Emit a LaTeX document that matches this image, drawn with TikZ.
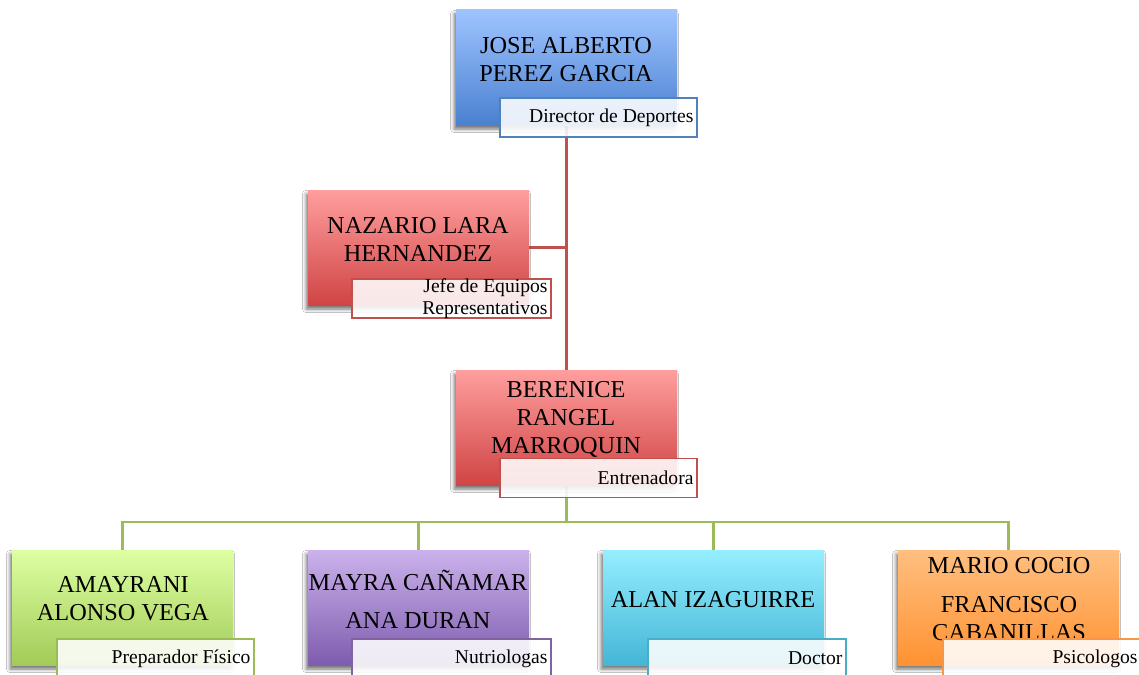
\documentclass[tikz,border=0pt]{standalone}
\usepackage{fontspec}
\setmainfont{Liberation Serif}
\usetikzlibrary{shadows.blur}
\pgfdeclarelayer{bg}
\pgfsetlayers{bg,main}
\definecolor{bluetop}{HTML}{9EC4FF}
\definecolor{bluebot}{HTML}{4A80D0}
\definecolor{blueline}{HTML}{4F81BD}
\definecolor{redtop}{HTML}{FF9E9E}
\definecolor{redbot}{HTML}{D04444}
\definecolor{redline}{HTML}{C0504D}
\definecolor{greentop}{HTML}{DEFFA2}
\definecolor{greenbot}{HTML}{A2CB58}
\definecolor{greenline}{HTML}{9BBB59}
\definecolor{purptop}{HTML}{CBB2EC}
\definecolor{purpbot}{HTML}{7E5CAE}
\definecolor{purpline}{HTML}{8064A2}
\definecolor{cyantop}{HTML}{94EEFF}
\definecolor{cyanbot}{HTML}{44B6D6}
\definecolor{cyanline}{HTML}{4BACC6}
\definecolor{orangetop}{HTML}{FFBF80}
\definecolor{orangebot}{HTML}{FF9232}
\definecolor{orangeline}{HTML}{F79646}
\tikzset{
  person/.style={minimum width=221pt, minimum height=115pt, inner sep=0pt, draw=none,
    blur shadow={shadow xshift=-2pt, shadow yshift=-4pt, shadow blur radius=3.5pt, shadow opacity=55}},
  nametext/.style={font=\fontsize{24.3}{28}\selectfont, align=center, inner sep=0pt, text=black},
  role/.style={minimum height=39pt, inner sep=0pt, fill=white, fill opacity=0.88, line width=1.4pt},
  roletext/.style={font=\fontsize{19.6}{22}\selectfont, align=right, inner sep=0pt, anchor=east, text=black},
  redconn/.style={draw=redline, line width=2.2pt},
  greenconn/.style={draw=greenline, line width=2.4pt},
}
\begin{document}
\begin{tikzpicture}[x=1pt,y=-1pt]
\clip (0,0) rectangle (1139,674);
% main boxes
\node[person, top color=bluetop, bottom color=bluebot] (jose) at (566.5,67.5) {};
\node[person, top color=redtop, bottom color=redbot] (naz) at (418.5,247.5) {};
\node[person, top color=redtop, bottom color=redbot] (ber) at (566.5,427.5) {};
\node[person, top color=greentop, bottom color=greenbot] (ama) at (122.5,607.5) {};
\node[person, top color=purptop, bottom color=purpbot] (may) at (418.5,607.5) {};
\node[person, top color=cyantop, bottom color=cyanbot] (alan) at (713.5,607.5) {};
\node[person, top color=orangetop, bottom color=orangebot] (mario) at (1008.5,607.5) {};
% names
\node[nametext] (josen) at (566,59.5) {JOSE ALBERTO\\PEREZ GARCIA};
\node[nametext] (nazn) at (418,239.5) {NAZARIO LARA\\HERNANDEZ};
\node[nametext] (bern) at (566,419) {BERENICE\\RANGEL\\MARROQUIN};
\node[nametext] (aman) at (123,598.5) {AMAYRANI\\ALONSO VEGA};
\node[nametext] (mayn) at (418,599) {MAYRA CAÑAMAR\\[10pt]ANA DURAN};
\node[nametext] (alann) at (713,600) {ALAN IZAGUIRRE};
\node[nametext] (marion) at (1009,599.5) {MARIO COCIO\\[11pt]FRANCISCO\\CABANILLAS};
% role boxes
\node[role, draw=blueline, minimum width=197pt] (dir) at (598.5,117.5) {};
\node[role, draw=redline, minimum width=199pt] (jefe) at (451.5,298.5) {};
\node[role, draw=redline, minimum width=197pt] (ent) at (598.5,478) {};
\node[role, draw=greenline, minimum width=197pt] (prep) at (155.5,658.5) {};
\node[role, draw=purpline, minimum width=199pt] (nut) at (451.5,658.5) {};
\node[role, draw=cyanline, minimum width=198pt] (doc) at (747,658.5) {};
\node[role, draw=orangeline, minimum width=198pt] (psi) at (1042,658.5) {};
% role texts
\node[roletext] (dirt) at ([xshift=-4pt]dir.east) {Director de Deportes};
\node[roletext] (jefet) at ([xshift=-4pt]jefe.east) {Jefe de Equipos\\Representativos};
\node[roletext] (entt) at ([xshift=-4pt]ent.east) {Entrenadora};
\node[roletext] (prept) at ([xshift=-4pt]prep.east) {Preparador Físico};
\node[roletext] (nutt) at ([xshift=-4pt]nut.east) {Nutriologas};
\node[roletext] (doct) at ([xshift=-4pt]doc.east) {Doctor};
\node[roletext] (psit) at ([xshift=-4pt]psi.east) {Psicologos};
% connectors
\coordinate (bus) at (566.5,522);
\begin{pgfonlayer}{bg}
\fill[white] (0,0) rectangle (1139,674);
\draw[redconn] (jose.south) -- (ber.north);
\draw[redconn] (naz.east) -- (naz.east -| jose.south);
\draw[greenconn] (ber.south) -- (bus);
\draw[greenconn] (bus) -| (ama.north);
\draw[greenconn] (bus) -| (may.north);
\draw[greenconn] (bus) -| (alan.north);
\draw[greenconn] (bus) -| (mario.north);
\end{pgfonlayer}
\end{tikzpicture}
\end{document}
